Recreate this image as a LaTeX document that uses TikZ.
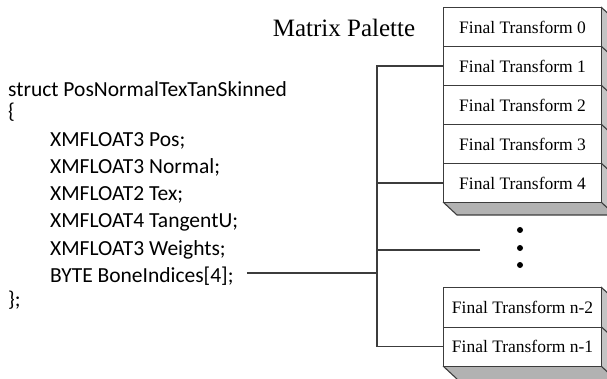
\documentclass[tikz,border=0pt]{standalone}
\usepackage{fontspec}
\setmainfont{Liberation Serif}
\newfontfamily\codefont{Carlito}
\definecolor{edge}{HTML}{3C3C3C}
\definecolor{sideg}{HTML}{C4C4C4}
\definecolor{botg}{HTML}{B2B2B2}
\tikzset{
  ftbox/.style={draw=edge, line width=1.1pt, fill=white, minimum width=158pt, minimum height=39pt,
    inner sep=0pt, anchor=north west, font=\fontsize{17.5}{20}\selectfont},
  codeline/.style={anchor=base west, inner sep=0pt, font=\codefont\fontsize{21.5}{25}\selectfont},
  wire/.style={draw=edge, line width=1.1pt},
  face/.style={draw=edge, line width=1.1pt, line join=round},
  dotmark/.style={circle, fill=black, inner sep=0pt, minimum size=6pt}
}
\begin{document}
\begin{tikzpicture}[x=1pt,y=-1pt]
\useasboundingbox (0,0) rectangle (607,379);
\clip (0,0) rectangle (607,379);
% 3D faces of top group
\fill[botg] (443,202) -- (601,202) -- (615,215) -- (457,215) -- cycle;
\fill[sideg] (601,7) -- (615,20) -- (615,215) -- (601,202) -- cycle;
\draw[face] (443,202) -- (457,215) -- (615,215);
\foreach \yy in {7,46,85,124,163,202} \draw[face] (601,\yy) -- (615,\yy+13);
% 3D faces of bottom group
\fill[botg] (443,366) -- (601,366) -- (615,379) -- (457,379) -- cycle;
\fill[sideg] (601,287) -- (615,300) -- (615,379) -- (601,366) -- cycle;
\draw[face] (443,366) -- (457,379);
\foreach \yy in {287,326.5,366} \draw[face] (601,\yy) -- (615,\yy+13);
% boxes
\node[ftbox] (f0) at (443,7) {Final Transform 0};
\node[ftbox] (f1) at (443,46) {Final Transform 1};
\node[ftbox] (f2) at (443,85) {Final Transform 2};
\node[ftbox] (f3) at (443,124) {Final Transform 3};
\node[ftbox] (f4) at (443,163) {Final Transform 4};
\node[ftbox, minimum height=39.5pt] (fn2) at (443,287) {Final Transform n-2};
\node[ftbox, minimum height=39.5pt] (fn1) at (443,326.5) {Final Transform n-1};
% dots
\node[dotmark] (d1) at (520,230) {};
\node[dotmark] (d2) at (520,248) {};
\node[dotmark] (d3) at (520,265) {};
% title
\node[anchor=base, inner sep=0pt, font=\fontsize{25}{29}\selectfont] (title) at (344,37) {Matrix Palette};
% code
\node[codeline] (l1) at (8,97) {struct PosNormalTexTanSkinned};
\node[codeline] (l2) at (8,119) {\{};
\node[codeline] (l3) at (50,147) {XMFLOAT3 Pos;};
\node[codeline] (l4) at (50,174) {XMFLOAT3 Normal;};
\node[codeline] (l5) at (50,201) {XMFLOAT2 Tex;};
\node[codeline] (l6) at (50,228) {XMFLOAT4 TangentU;};
\node[codeline] (l7) at (50,255) {XMFLOAT3 Weights;};
\node[codeline] (l8) at (50,282) {BYTE BoneIndices[4];};
\node[codeline] (l9) at (8,306) {\};};
% connectors
\coordinate (trunktop) at (377,0);
\coordinate (dotend) at (480,250);
\draw[wire] (f1.west) -| (fn1.west -| trunktop) -- (fn1.west);
\draw[wire] (f4.west) -- (f4.west -| trunktop);
\draw[wire] (dotend) -- (dotend -| trunktop);
\draw[wire] ([xshift=13pt,yshift=9pt]l8.base east) -- ([yshift=9pt]l8.base east -| trunktop);
\end{tikzpicture}
\end{document}
